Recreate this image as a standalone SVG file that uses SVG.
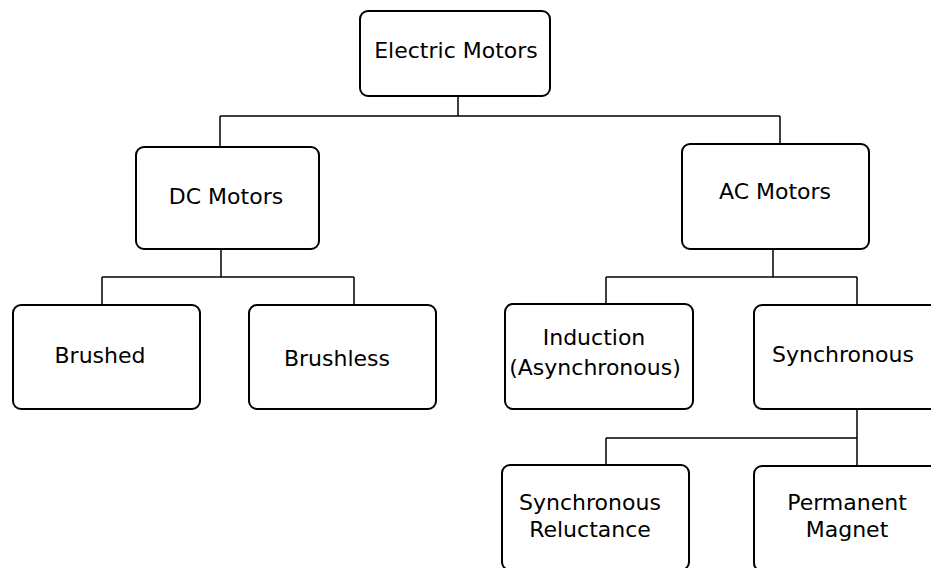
<svg xmlns="http://www.w3.org/2000/svg" width="931" height="568" viewBox="0 0 931 568">
<style>
.box{fill:#fff;stroke:#000;stroke-width:2}
.t{font-family:"DejaVu Sans",Verdana,sans-serif;font-size:22px;fill:#000;text-anchor:middle}
.c{fill:none;stroke:#000;stroke-width:1.5}
</style>
<rect width="931" height="568" fill="#fff"/>
<g id="connectors">
<path class="c" d="M458 96V116M220 116H780M220 116V147M780 116V144"/>
<path class="c" d="M221 249V277M102 277H354M102 277V305M354 277V305"/>
<path class="c" d="M773 249V277M606 277H857M606 277V304M857 277V305"/>
<path class="c" d="M857 409V438M606 438H857M606 438V465M857 438V466"/>
</g>
<g id="electric-motors"><rect class="box" x="360" y="11" width="190" height="85" rx="8"/><text class="t" x="456" y="58">Electric Motors</text></g>
<g id="dc-motors"><rect class="box" x="136" y="147" width="183" height="102" rx="8"/><text class="t" x="226" y="204">DC Motors</text></g>
<g id="ac-motors"><rect class="box" x="682" y="144" width="187" height="105" rx="8"/><text class="t" x="775" y="199">AC Motors</text></g>
<g id="brushed"><rect class="box" x="13" y="305" width="187" height="104" rx="8"/><text class="t" x="100" y="363">Brushed</text></g>
<g id="brushless"><rect class="box" x="249" y="305" width="187" height="104" rx="8"/><text class="t" x="337" y="366">Brushless</text></g>
<g id="induction"><rect class="box" x="505" y="304" width="188" height="105" rx="8"/><text class="t" x="594" y="345">Induction</text><text class="t" x="595" y="375">(Asynchronous)</text></g>
<g id="synchronous"><rect class="box" x="754" y="305" width="187" height="104" rx="8"/><text class="t" x="843" y="362">Synchronous</text></g>
<g id="synchronous-reluctance"><rect class="box" x="502" y="465" width="187" height="105" rx="8"/><text class="t" x="590" y="510">Synchronous</text><text class="t" x="590" y="537">Reluctance</text></g>
<g id="permanent-magnet"><rect class="box" x="754" y="466" width="187" height="105" rx="8"/><text class="t" x="847" y="510">Permanent</text><text class="t" x="847" y="537">Magnet</text></g>
</svg>
